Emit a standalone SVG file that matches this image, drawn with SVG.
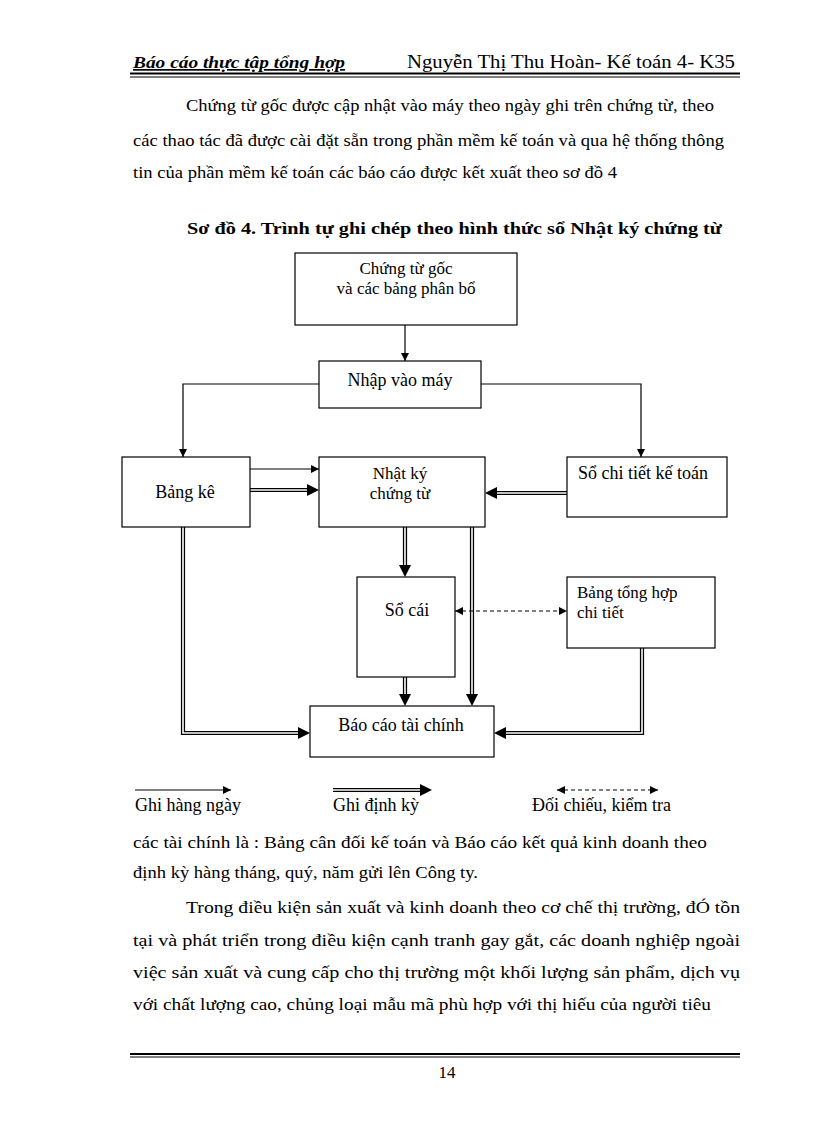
<svg xmlns="http://www.w3.org/2000/svg" width="816" height="1123" viewBox="0 0 816 1123">
<defs>
<style>
text{font-family:"Liberation Serif","Times New Roman",serif;fill:#000}
.p{font-size:17px}
.d{font-size:18px}
.d2{font-size:17px}
.box{fill:#fff;stroke:#000;stroke-width:1.2}
.ln{fill:none;stroke:#000;stroke-width:1.2}
.dbo{fill:none;stroke:#000;stroke-width:4.2}
.dbi{fill:none;stroke:#fff;stroke-width:1.6}
.ds{fill:none;stroke:#000;stroke-width:1.2;stroke-dasharray:4 3}
.ah{fill:#000}
</style>
<marker id="a" viewBox="0 0 8 8" refX="8" refY="4" markerWidth="8" markerHeight="8" markerUnits="userSpaceOnUse" orient="auto">
<path d="M0 0 L8 4 L0 8 Z" fill="#000"/>
</marker>
<marker id="s" viewBox="0 0 8 8" refX="0" refY="4" markerWidth="8" markerHeight="8" markerUnits="userSpaceOnUse" orient="auto">
<path d="M8 0 L0 4 L8 8 Z" fill="#000"/>
</marker>
</defs>
<rect width="816" height="1123" fill="#fff"/>

<g id="header">
<text x="133" y="68" font-size="17" font-weight="bold" font-style="italic" text-decoration="underline" textLength="212" lengthAdjust="spacingAndGlyphs">Báo cáo thực tập tổng hợp</text>
<text x="407" y="68" font-size="18" textLength="328" lengthAdjust="spacingAndGlyphs">Nguyễn  Thị Thu Hoàn- Kế toán 4- K35</text>
<line x1="130" y1="73.5" x2="740" y2="73.5" stroke="#000" stroke-width="2"/>
<line x1="130" y1="77" x2="740" y2="77" stroke="#000" stroke-width="1"/>
</g>

<g id="para1">
<text class="p" x="186" y="111" textLength="528" lengthAdjust="spacingAndGlyphs">Chứng từ gốc được cập nhật vào máy theo ngày ghi trên chứng từ, theo</text>
<text class="p" x="133" y="146" textLength="591" lengthAdjust="spacingAndGlyphs">các thao tác đã được cài đặt sẵn trong phần mềm kế toán và qua hệ thống thông</text>
<text class="p" x="133" y="178" textLength="484" lengthAdjust="spacingAndGlyphs">tin của phần mềm kế toán các báo cáo được kết xuất theo sơ đồ 4</text>
</g>

<g id="title">
<text x="187" y="234" font-size="17" font-weight="bold" textLength="535" lengthAdjust="spacingAndGlyphs">Sơ đồ 4. Trình tự ghi chép theo hình thức sổ Nhật ký chứng từ</text>
</g>

<g id="connectors">
<line class="ln" x1="405" y1="325" x2="405" y2="361" marker-end="url(#a)"/>
<path class="ln" d="M319 384 H183 V457" marker-end="url(#a)"/>
<path class="ln" d="M481 384 H641 V457" marker-end="url(#a)"/>
<line class="ln" x1="250" y1="469" x2="319" y2="469" marker-end="url(#a)"/>
<path class="dbo" d="M250 490 H308"/><path class="dbi" d="M250 490 H308"/>
<polygon class="ah" points="307,484 319,490 307,496"/>
<path class="dbo" d="M567 493 H496"/><path class="dbi" d="M567 493 H496"/>
<polygon class="ah" points="497,487 485,493 497,499"/>
<path class="dbo" d="M183 527 V733 H299"/><path class="dbi" d="M183 527 V733 H299"/>
<polygon class="ah" points="298,727 310,733 298,739"/>
<path class="dbo" d="M405 527 V566"/><path class="dbi" d="M405 527 V566"/>
<polygon class="ah" points="399,565 405,577 411,565"/>
<path class="dbo" d="M472 527 V695"/><path class="dbi" d="M472 527 V695"/>
<polygon class="ah" points="466,694 472,706 478,694"/>
<path class="dbo" d="M405 677 V695"/><path class="dbi" d="M405 677 V695"/>
<polygon class="ah" points="399,694 405,706 411,694"/>
<path class="dbo" d="M642 648 V733 H505"/><path class="dbi" d="M642 648 V733 H505"/>
<polygon class="ah" points="506,727 494,733 506,739"/>
<line class="ds" x1="455" y1="611" x2="567" y2="611" marker-start="url(#s)" marker-end="url(#a)"/>
</g>

<g id="n-chungtu">
<rect class="box" x="295" y="253" width="222" height="72"/>
<text class="d2" x="406" y="274" text-anchor="middle">Chứng từ gốc</text>
<text class="d2" x="406" y="294" text-anchor="middle">và các bảng phân bổ</text>
</g>
<g id="n-nhap">
<rect class="box" x="319" y="361" width="162" height="47"/>
<text class="d" x="400" y="386" text-anchor="middle">Nhập vào máy</text>
</g>
<g id="n-bangke">
<rect class="box" x="122" y="457" width="128" height="70"/>
<text class="d" x="185" y="498" text-anchor="middle">Bảng kê</text>
</g>
<g id="n-nhatky">
<rect class="box" x="319" y="457" width="166" height="70"/>
<text class="d2" x="400" y="479" text-anchor="middle">Nhật ký</text>
<text class="d2" x="400" y="499" text-anchor="middle">chứng từ</text>
</g>
<g id="n-sochitiet">
<rect class="box" x="567" y="457" width="160" height="60"/>
<text class="d" x="578" y="479">Sổ chi tiết kế toán</text>
</g>
<g id="n-socai">
<rect class="box" x="357" y="577" width="98" height="100"/>
<text class="d" x="407" y="616" text-anchor="middle">Sổ cái</text>
</g>
<g id="n-bangtonghop">
<rect class="box" x="567" y="577" width="148" height="71"/>
<text class="d2" x="577" y="598">Bảng tổng hợp</text>
<text class="d2" x="577" y="618">chi tiết</text>
</g>
<g id="n-baocao">
<rect class="box" x="310" y="706" width="184" height="51"/>
<text class="d" x="401" y="731" text-anchor="middle">Báo cáo tài chính</text>
</g>

<g id="legend">
<line class="ln" x1="135" y1="790" x2="231" y2="790" marker-end="url(#a)"/>
<text class="d" x="135" y="811">Ghi hàng ngày</text>
<path class="dbo" d="M333 790 H421"/><path class="dbi" d="M333 790 H421"/>
<polygon class="ah" points="420,784 432,790 420,796"/>
<text class="d" x="333" y="811">Ghi định kỳ</text>
<line class="ds" x1="557" y1="790" x2="658" y2="790" marker-start="url(#s)" marker-end="url(#a)"/>
<text class="d" x="532" y="811">Đối chiếu, kiểm tra</text>
</g>

<g id="para2">
<text class="p" x="133" y="848" textLength="574" lengthAdjust="spacingAndGlyphs">các tài chính là : Bảng cân đối kế toán và Báo cáo kết quả kinh doanh theo</text>
<text class="p" x="133" y="878" textLength="345" lengthAdjust="spacingAndGlyphs">định kỳ hàng tháng, quý, năm gửi lên Công ty.</text>
<text class="p" x="186" y="913" textLength="554" lengthAdjust="spacingAndGlyphs">Trong điều kiện sản xuất và kinh doanh theo cơ chế thị trường, đÓ tồn</text>
<text class="p" x="133" y="946" textLength="607" lengthAdjust="spacingAndGlyphs">tại và phát triển trong điều kiện cạnh tranh gay gắt, các doanh nghiệp ngoài</text>
<text class="p" x="133" y="978" textLength="607" lengthAdjust="spacingAndGlyphs">việc sản xuất và cung cấp cho thị trường một khối lượng sản phẩm, dịch vụ</text>
<text class="p" x="133" y="1010" textLength="578" lengthAdjust="spacingAndGlyphs">với chất lượng cao, chủng loại mẫu mã phù hợp với thị hiếu của người tiêu</text>
</g>

<g id="footer">
<line x1="130" y1="1054" x2="740" y2="1054" stroke="#000" stroke-width="2"/>
<line x1="130" y1="1057" x2="740" y2="1057" stroke="#000" stroke-width="1"/>
<text class="p" x="447" y="1078" text-anchor="middle">14</text>
</g>
</svg>
